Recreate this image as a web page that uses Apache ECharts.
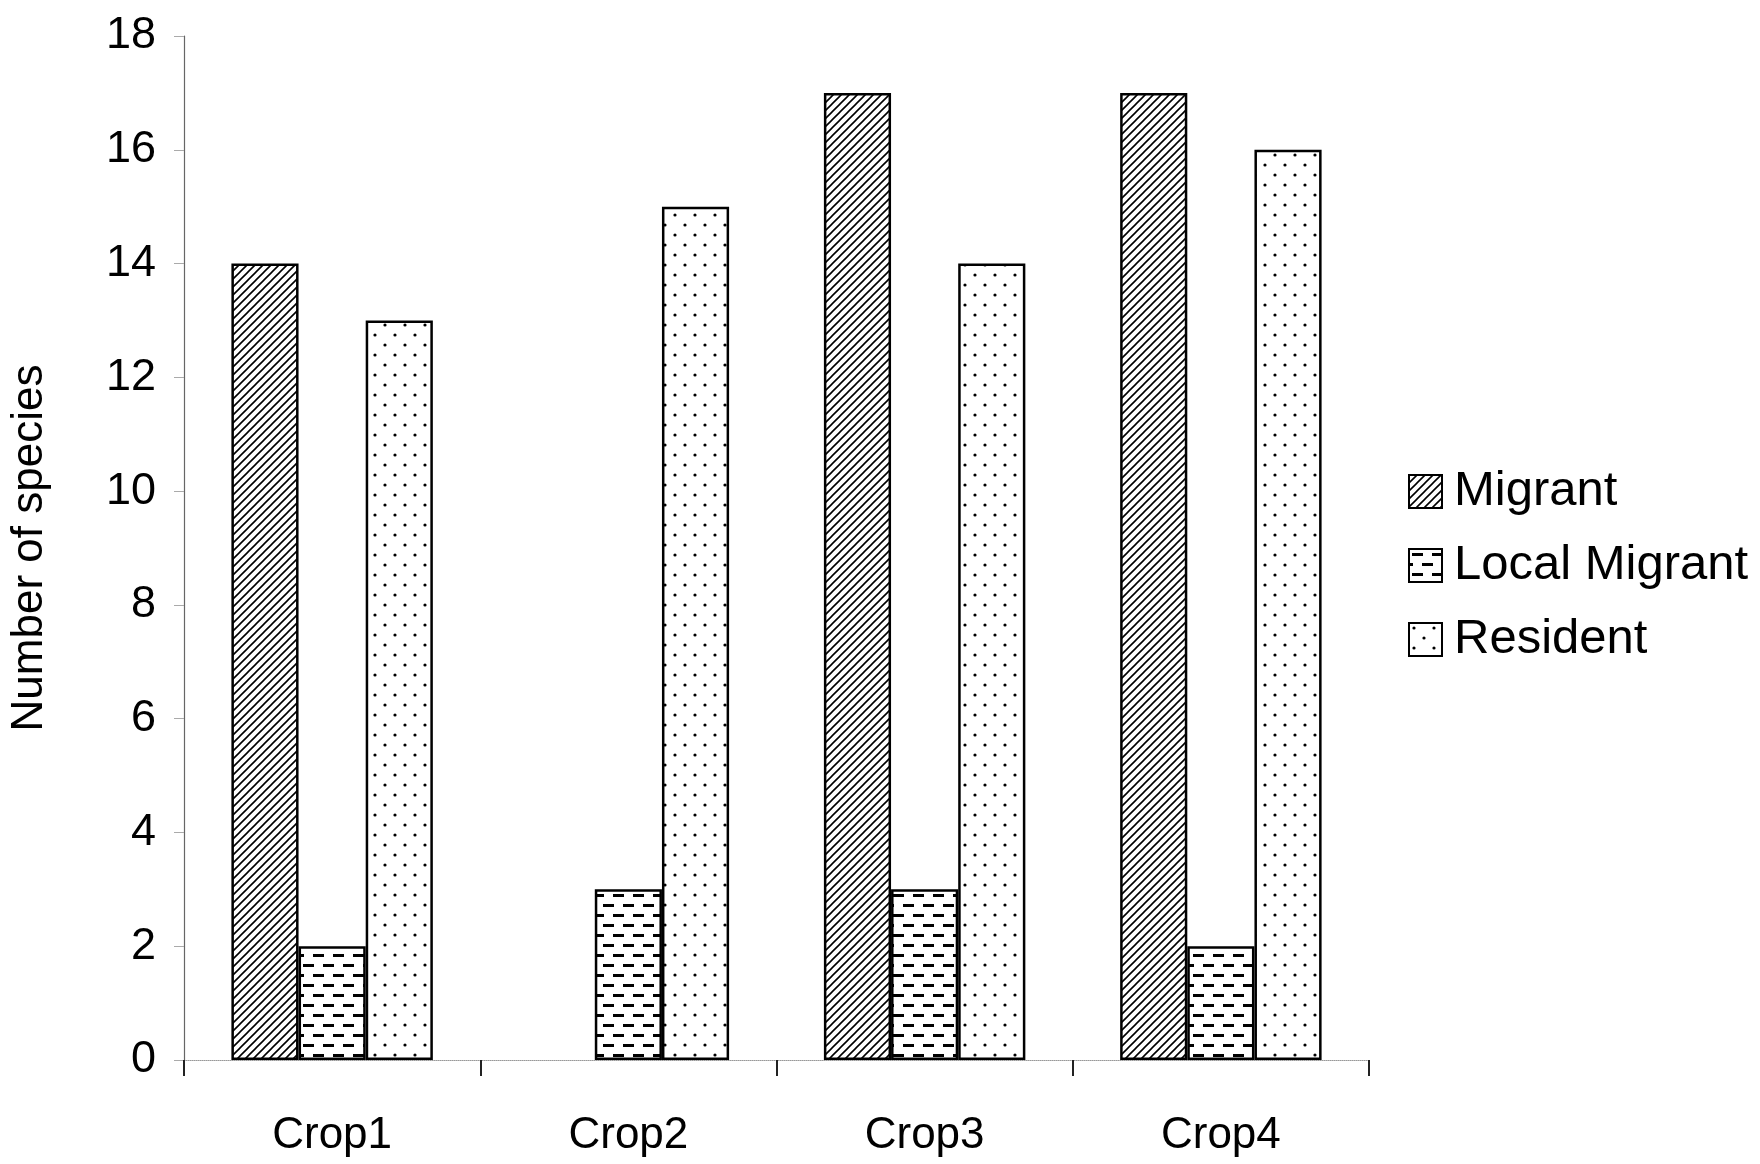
<!DOCTYPE html>
<html>
<head>
<meta charset="utf-8">
<script src="https://cdn.jsdelivr.net/npm/echarts@6/dist/echarts.min.js"></script>
<style>
html,body{margin:0;padding:0;background:#fff;}
#chart{width:1760px;height:1164px;}
</style>
</head>
<body>
<div id="chart"></div>
<script>
const categories = ['Crop1', 'Crop2', 'Crop3', 'Crop4'];
const migrant = [14, 0, 17, 17];
const localMigrant = [2, 3, 3, 2];
const resident = [13, 15, 14, 16];
const yTicks = [0, 2, 4, 6, 8, 10, 12, 14, 16, 18];

function makePattern(kind) {
  const c = document.createElement('canvas');
  const ctx = c.getContext('2d');
  if (kind === 'hatch') {
    c.width = 8; c.height = 8;
    ctx.fillStyle = '#fff'; ctx.fillRect(0, 0, 8, 8);
    ctx.strokeStyle = '#000'; ctx.lineWidth = 1.6;
    ctx.beginPath();
    ctx.moveTo(-2, 10); ctx.lineTo(10, -2);
    ctx.moveTo(-6, 6); ctx.lineTo(6, -6);
    ctx.moveTo(2, 14); ctx.lineTo(14, 2);
    ctx.stroke();
  } else if (kind === 'dash') {
    c.width = 20; c.height = 20;
    ctx.fillStyle = '#fff'; ctx.fillRect(0, 0, 20, 20);
    ctx.fillStyle = '#000';
    ctx.fillRect(3, 4, 11, 3);
    ctx.fillRect(13, 14, 7, 3);
    ctx.fillRect(0, 14, 4, 3);
  } else {
    c.width = 20; c.height = 20;
    ctx.fillStyle = '#fff'; ctx.fillRect(0, 0, 20, 20);
    ctx.fillStyle = '#000';
    ctx.beginPath(); ctx.arc(5, 5, 1.6, 0, Math.PI * 2); ctx.fill();
    ctx.beginPath(); ctx.arc(15, 15, 1.6, 0, Math.PI * 2); ctx.fill();
  }
  return { image: c, repeat: 'repeat' };
}

const fontFam = '"Liberation Sans", Arial, sans-serif';
const chart = echarts.init(document.getElementById('chart'), null, { renderer: 'canvas' });

function barSeries(name, data, kind) {
  return {
    name: name,
    type: 'bar',
    data: data.map(function (v) {
      return v === 0 ? { value: v, itemStyle: { borderWidth: 0 } } : v;
    }),
    barGap: '0%',
    barCategoryGap: '32%',
    itemStyle: { color: makePattern(kind), borderColor: '#000', borderWidth: 2.5 },
    emphasis: { disabled: true }
  };
}

chart.setOption({
  backgroundColor: '#fff',
  animation: false,
  textStyle: { fontFamily: fontFam, color: '#000' },
  grid: { left: 183, right: 391, top: 36, bottom: 104, containLabel: false },
  legend: {
    orient: 'vertical',
    left: 1403,
    top: 460,
    itemWidth: 33,
    itemHeight: 33,
    itemGap: 21,
    icon: 'rect',
    data: ['Migrant', 'Local Migrant', 'Resident'],
    textStyle: { fontSize: 49, color: '#000', fontFamily: fontFam, lineHeight: 53, padding: [0, 0, 0, 7] }
  },
  xAxis: {
    type: 'category',
    data: categories,
    axisLine: { show: true, lineStyle: { color: '#999', width: 1, type: 'dotted' } },
    axisTick: { show: true, alignWithLabel: false, length: 16, inside: false, lineStyle: { color: '#222', width: 2 } },
    axisLabel: { fontSize: 44, color: '#000', margin: 54, fontFamily: fontFam }
  },
  yAxis: {
    type: 'value',
    min: 0,
    max: 18,
    interval: 2,
    name: 'Number of species',
    nameLocation: 'middle',
    nameGap: 132,
    nameRotate: 90,
    nameTextStyle: { fontSize: 44, color: '#000', fontFamily: fontFam },
    axisLine: { show: true, lineStyle: { color: '#666', width: 1.2 } },
    axisTick: { show: true, length: 10, lineStyle: { color: '#aaa', width: 1 } },
    splitLine: { show: false },
    axisLabel: {
      fontSize: 45, color: '#000', margin: 28, fontFamily: fontFam,
      formatter: function (v) { return yTicks.indexOf(v) >= 0 ? String(v) : ''; }
    }
  },
  series: [
    barSeries('Migrant', migrant, 'hatch'),
    barSeries('Local Migrant', localMigrant, 'dash'),
    barSeries('Resident', resident, 'dots')
  ]
});
</script>
</body>
</html>
